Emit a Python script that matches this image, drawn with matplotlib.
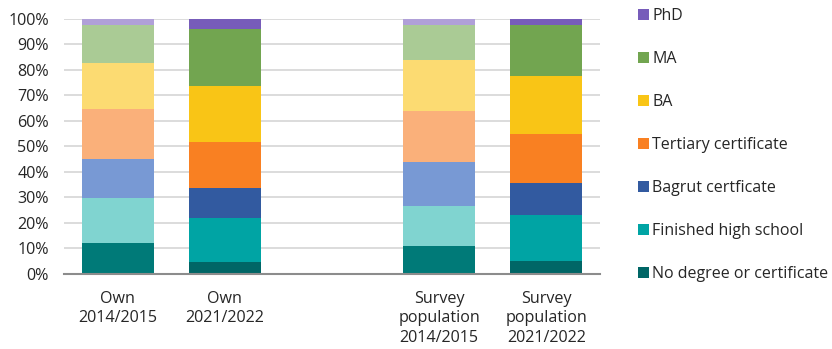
import matplotlib.pyplot as plt
import numpy as np

plt.rcParams['font.family'] = ['Open Sans', 'DejaVu Sans']

groups = ["Own\n2014/2015", "Own\n2021/2022", "Survey\npopulation\n2014/2015", "Survey\npopulation\n2021/2022"]
positions = [0, 1, 3, 4]
levels = ["No degree or certificate", "Finished high school", "Bagrut certficate",
          "Tertiary certificate", "BA", "MA", "PhD"]

# share of each level (%) per bar, bottom to top
own_2014 = [12.2, 17.6, 15.3, 19.6, 18.0, 14.9, 2.4]
own_2021 = [4.7, 17.3, 11.7, 18.1, 21.9, 22.4, 3.9]
survey_2014 = [11.0, 15.7, 17.2, 20.0, 20.0, 13.7, 2.4]
survey_2021 = [5.1, 18.0, 12.6, 19.2, 22.7, 20.0, 2.4]

dark = ["#006666", "#00A4A4", "#325AA0", "#F98022", "#F9C516", "#72A550", "#775CBA"]
light = ["#007A78", "#80D4D0", "#7899D4", "#FAB07A", "#FCDB72", "#AACB95", "#B0A0D8"]

fig = plt.figure(figsize=(8.32, 3.49), dpi=100)
ax = fig.add_axes([0.077, 0.215, 0.644, 0.731])

series = [own_2014, own_2021, survey_2014, survey_2021]
palettes = [light, dark, light, dark]
handles = []
for pos, vals, cols, in zip(positions, series, palettes):
    bottom = 0.0
    for i, v in enumerate(vals):
        b = ax.bar(pos, v / 100, width=0.673, bottom=bottom, color=cols[i], linewidth=0, zorder=3)
        bottom += v / 100
        if pos == 1:
            handles.append((b, levels[i]))

ax.set_xlim(-0.5, 4.5)
ax.set_ylim(0, 1)
ax.set_yticks(np.arange(0, 1.01, 0.1))
ax.set_yticklabels([f"{int(round(t * 100))}%" for t in np.arange(0, 1.01, 0.1)])
ax.set_xticks(positions)
ax.set_xticklabels(groups, linespacing=1.3, va="top")
ax.tick_params(axis="both", length=0, labelsize=11.6, colors="#262626")
ax.tick_params(axis="x", pad=12)
ax.tick_params(axis="y", pad=11)
ax.grid(axis="y", color="#D9D9D9", linewidth=1.3, zorder=0)
for s in ["top", "right", "left"]:
    ax.spines[s].set_visible(False)
ax.spines["bottom"].set_color("#8C8C8C")
ax.spines["bottom"].set_linewidth(1.5)
ax.spines["bottom"].set_zorder(4)

h = [hh[0] for hh in handles][::-1]
l = [hh[1] for hh in handles][::-1]
fig.legend(h, l, loc="upper left", bbox_to_anchor=(0.749, 1.017), frameon=False,
           fontsize=11.5, handlelength=0.7, handleheight=0.7, handletextpad=0.22,
           labelspacing=1.69, labelcolor="#262626")

fig.savefig("out.png", dpi=100)
